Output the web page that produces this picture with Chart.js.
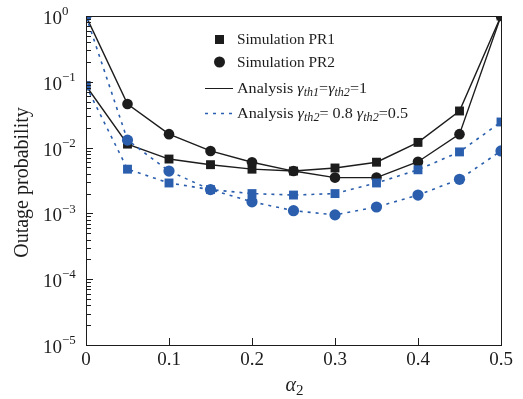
<!DOCTYPE html>
<html>
<head>
<meta charset="utf-8">
<script src="https://cdn.jsdelivr.net/npm/chart.js@4.4.1/dist/chart.umd.min.js"></script>
<style>
  html, body { margin: 0; padding: 0; background: #fff; }
  #wrap { width: 523px; height: 399px; }
</style>
</head>
<body>
<div id="wrap"><canvas id="outageChart"></canvas></div>
<script>
// power allocation factor alpha_2
const alpha = [0, 0.05, 0.1, 0.15, 0.2, 0.25, 0.3, 0.35, 0.4, 0.45, 0.5];
// gamma_th1 = gamma_th2 = 1 (black)
const pr1Equal = [0.087, 0.0113, 0.0067, 0.0055, 0.0047, 0.0044, 0.0049, 0.006, 0.012, 0.036, 1];
const pr2Equal = [1, 0.046, 0.016, 0.0089, 0.006, 0.0044, 0.0035, 0.0035, 0.0061, 0.016, 1];
// gamma_th1 = 0.8, gamma_th2 = 0.5 (blue)
const pr1Unequal = [0.087, 0.0047, 0.0029, 0.0023, 0.002, 0.0019, 0.002, 0.0029, 0.0046, 0.0086, 0.0245];
const pr2Unequal = [1, 0.013, 0.0044, 0.0023, 0.0015, 0.0011, 0.00095, 0.00125, 0.0019, 0.0033, 0.0089];

const xTicks = [0, 0.1, 0.2, 0.3, 0.4, 0.5];
const yExponents = [0, -1, -2, -3, -4, -5];

const BLACK = '#1c1c1c';
const BLUE = '#2b5fae';
const SERIF = '"Liberation Serif", "Times New Roman", serif';

const toPoints = ys => alpha.map((x, i) => ({ x: x, y: ys[i] }));

function series(ys, color, shape, dashed, order) {
    return {
        data: toPoints(ys),
        borderColor: color,
        backgroundColor: color,
        borderWidth: dashed ? 1.6 : 1.4,
        borderDash: dashed ? [3, 5] : [],
        pointStyle: shape,
        pointRadius: shape === 'rect' ? 6.3 : (dashed ? 5.6 : 5.3),
        pointBorderWidth: 0,
        tension: 0,
        clip: 0,
        order: order
    };
}

// draw a run of text pieces, some italic / subscript
function drawRuns(ctx, runs, x, y, size, measureOnly) {
    runs.forEach(r => {
        const s = r.sub || r.sup ? size * (r.sub ? 0.75 : 0.68) : size;
        ctx.font = (r.italic ? 'italic ' : '') + s + 'px ' + SERIF;
        const dy = r.sub ? size * 0.25 : (r.sup ? -size * 0.38 : 0);
        if (!measureOnly) ctx.fillText(r.t, x, y + dy);
        x += ctx.measureText(r.t).width;
    });
    return x;
}

const axesPlugin = {
    id: 'axesPlugin',
    afterDatasetsDraw(chart) {
        const ctx = chart.ctx;
        const a = chart.chartArea;
        const xs = chart.scales.x, ys = chart.scales.y;
        ctx.save();
        ctx.strokeStyle = BLACK;
        ctx.fillStyle = BLACK;
        ctx.lineWidth = 1;
        ctx.strokeRect(a.left + 0.5, a.top + 0.5, a.right - a.left, a.bottom - a.top);

        // x ticks (inward)
        ctx.beginPath();
        xTicks.forEach(v => {
            const px = Math.round(xs.getPixelForValue(v)) + 0.5;
            ctx.moveTo(px, a.bottom);
            ctx.lineTo(px, a.bottom - 7);
        });
        // y ticks, major and minor (inward)
        yExponents.forEach(e => {
            const py = Math.round(ys.getPixelForValue(Math.pow(10, e))) + 0.5;
            ctx.moveTo(a.left, py);
            ctx.lineTo(a.left + 7, py);
            if (e < 0) {
                for (let m = 2; m <= 9; m++) {
                    const pm = Math.round(ys.getPixelForValue(m * Math.pow(10, e))) + 0.5;
                    ctx.moveTo(a.left, pm);
                    ctx.lineTo(a.left + 5, pm);
                }
            }
        });
        ctx.stroke();

        // tick labels
        ctx.textBaseline = 'middle';
        ctx.textAlign = 'center';
        ctx.font = '19px ' + SERIF;
        xTicks.forEach(v => {
            ctx.fillText(String(v), xs.getPixelForValue(v), a.bottom + 15);
        });
        ctx.textAlign = 'left';
        yExponents.forEach(e => {
            const py = ys.getPixelForValue(Math.pow(10, e)) + 3;
            drawRuns(ctx, [{ t: '10' }, { t: e === 0 ? '0' : '\u2212' + (-e), sup: true }], 43, py, 19);
        });

        // axis titles
        const tx = (a.left + a.right) / 2 - 8;
        drawRuns(ctx, [{ t: '\u03b1', italic: true }, { t: '2', sub: true }], tx, 386, 20);

        ctx.save();
        ctx.translate(23, (a.top + a.bottom) / 2 + 2);
        ctx.rotate(-Math.PI / 2);
        ctx.textAlign = 'center';
        ctx.font = '20px ' + SERIF;
        ctx.fillText('Outage probability', 0, 0);
        ctx.restore();

        // legend
        const lx = 237;
        const rows = [39, 62, 88, 113];
        const widths = [98, 98, 130, 171];
        ctx.fillRect(215, rows[0] - 4, 9, 9);
        ctx.beginPath();
        ctx.arc(219.5, rows[1], 5.5, 0, Math.PI * 2);
        ctx.fill();
        ctx.beginPath();
        ctx.moveTo(205, rows[2] + 0.5);
        ctx.lineTo(233, rows[2] + 0.5);
        ctx.stroke();
        ctx.strokeStyle = BLUE;
        ctx.lineWidth = 1.6;
        ctx.setLineDash([3, 5]);
        ctx.beginPath();
        ctx.moveTo(205, rows[3] + 0.5);
        ctx.lineTo(233, rows[3] + 0.5);
        ctx.stroke();
        ctx.setLineDash([]);

        const legendText = [
            [{ t: 'Simulation PR1' }],
            [{ t: 'Simulation PR2' }],
            [{ t: 'Analysis ' }, { t: '\u03b3', italic: true }, { t: 'th1', italic: true, sub: true },
             { t: '=' }, { t: '\u03b3', italic: true }, { t: 'th2', italic: true, sub: true }, { t: '=1' }],
            [{ t: 'Analysis ' }, { t: '\u03b3', italic: true }, { t: 'th2', italic: true, sub: true },
             { t: '= 0.8 ' }, { t: '\u03b3', italic: true }, { t: 'th2', italic: true, sub: true }, { t: '=0.5' }]
        ];
        ctx.fillStyle = BLACK;
        legendText.forEach((runs, i) => {
            const natural = drawRuns(ctx, runs, 0, 0, 15.5, true);
            ctx.save();
            ctx.translate(lx, rows[i] + 1);
            ctx.scale(widths[i] / natural, 1);
            drawRuns(ctx, runs, 0, 0, 15.5);
            ctx.restore();
        });
        ctx.restore();
    }
};

new Chart(document.getElementById('outageChart'), {
    type: 'line',
    data: {
        datasets: [
            series(pr1Equal, BLACK, 'rect', false, 4),
            series(pr2Equal, BLACK, 'circle', false, 3),
            series(pr1Unequal, BLUE, 'rect', true, 2),
            series(pr2Unequal, BLUE, 'circle', true, 1)
        ]
    },
    options: {
        responsive: true,
        maintainAspectRatio: false,
        animation: false,
        layout: { padding: { left: 86, top: 16, right: 22, bottom: 54 } },
        plugins: {
            legend: { display: false },
            tooltip: { enabled: false }
        },
        scales: {
            x: { type: 'linear', min: 0, max: 0.5, display: false },
            y: { type: 'logarithmic', min: 1e-5, max: 1, display: false }
        }
    },
    plugins: [axesPlugin]
});
</script>
</body>
</html>
